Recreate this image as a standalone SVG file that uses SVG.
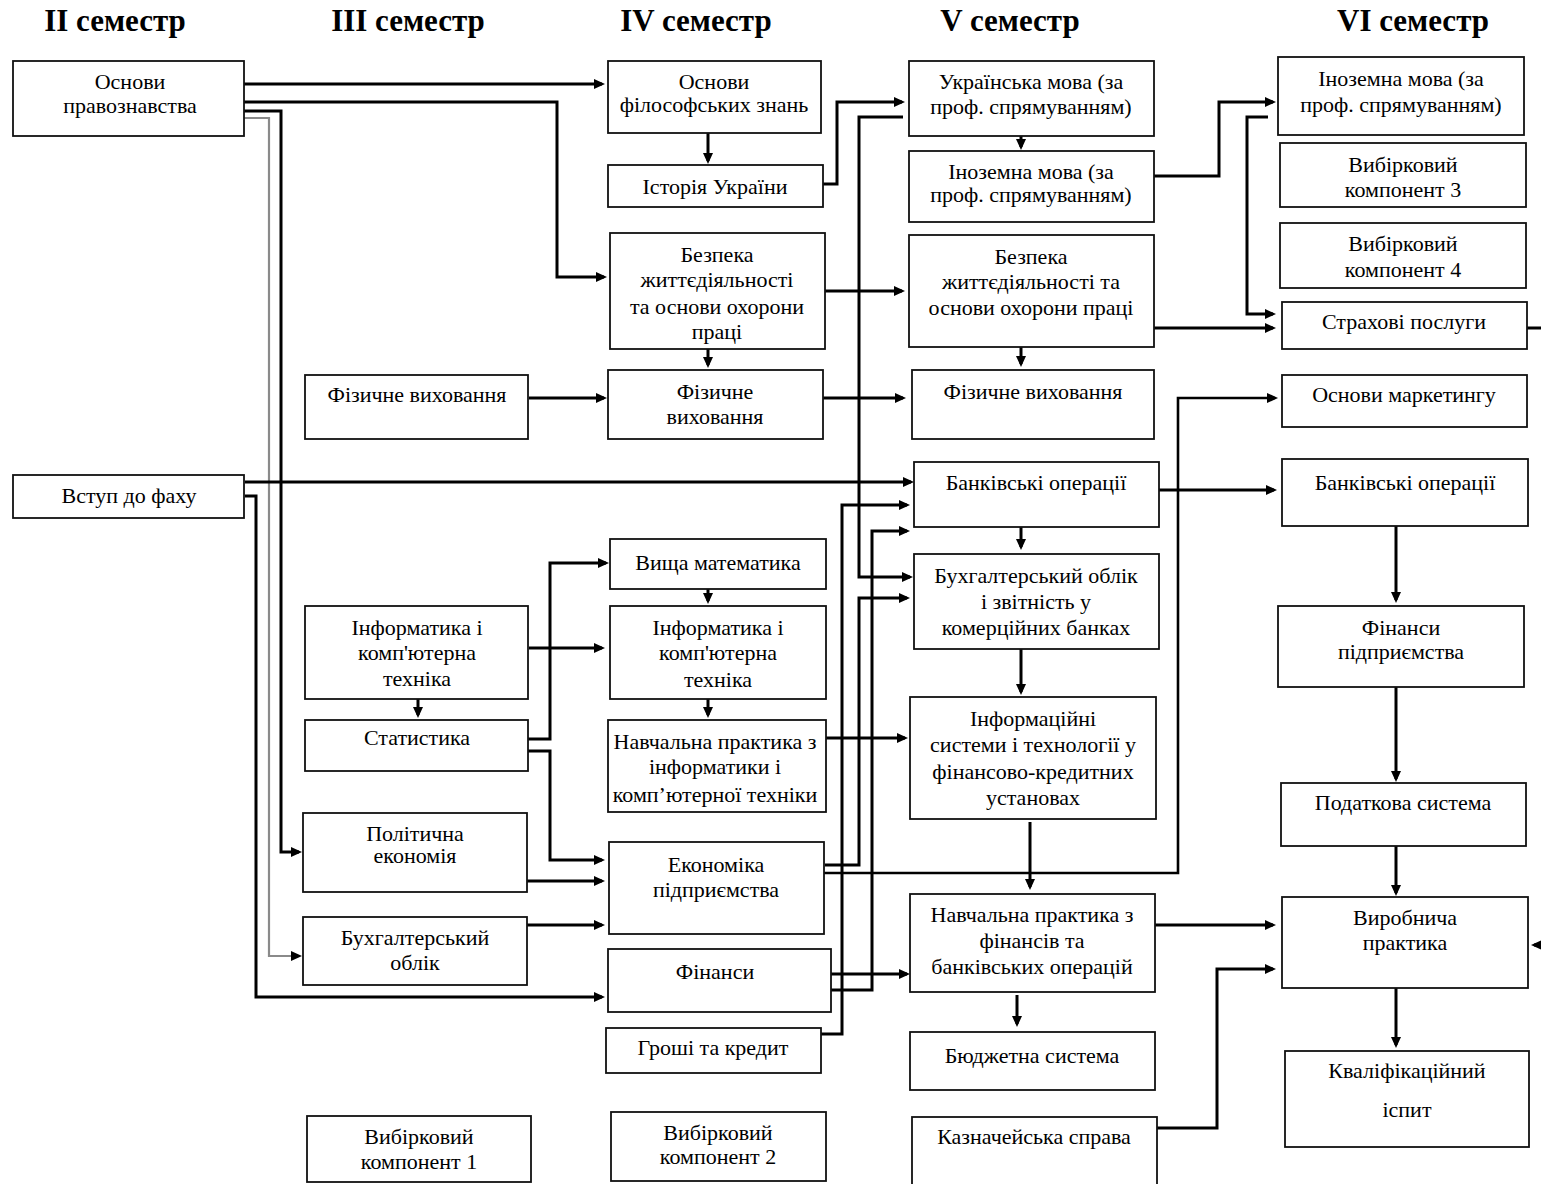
<svg xmlns="http://www.w3.org/2000/svg" width="1541" height="1184" viewBox="0 0 1541 1184">
<defs>
<style>
.b{fill:#fff;stroke:#111;stroke-width:1.8}
.t{font-family:"Liberation Serif","Times New Roman",serif;font-size:22px;fill:#000;text-anchor:middle}
.h{font-family:"Liberation Serif","Times New Roman",serif;font-size:31px;font-weight:bold;fill:#000;text-anchor:middle}
.c{fill:none;stroke:#000;stroke-width:3;marker-end:url(#ah)}
.n{fill:none;stroke:#000;stroke-width:3}
.g{fill:none;stroke:#8a8a8a;stroke-width:2.2;marker-end:url(#ah)}
</style>
<marker id="ah" markerUnits="userSpaceOnUse" markerWidth="12" markerHeight="11" refX="8" refY="5" orient="auto">
<path d="M0,0 L11,5 L0,10 Z" fill="#000"/>
</marker>
</defs>
<rect width="1541" height="1184" fill="#fff"/>

<g id="headers">
<text class="h" x="115" y="31">II семестр</text>
<text class="h" x="408" y="31">III семестр</text>
<text class="h" x="696" y="31">IV семестр</text>
<text class="h" x="1010" y="31">V семестр</text>
<text class="h" x="1413" y="31">VI семестр</text>
</g>

<g id="connectors">
<path class="c" d="M244,84 H602"/>
<path class="c" d="M244,102 H557 V277 H604"/>
<path class="c" d="M244,111 H281 V852 H299"/>
<path class="g" d="M244,118 H269 V956 H299"/>
<path class="c" d="M708,133 V161"/>
<path class="c" d="M823,184 H837 V102 H902"/>
<path class="c" d="M903,117 H859 V577 H910"/>
<path class="c" d="M1021,136 V147"/>
<path class="c" d="M1154,176 H1219 V102 H1273"/>
<path class="c" d="M1268,117 H1247 V314 H1273"/>
<path class="c" d="M1154,328 H1273"/>
<path class="c" d="M1527,328 H1550 V945 H1534"/>
<path class="c" d="M825,291 H902"/>
<path class="c" d="M708,349 V365"/>
<path class="c" d="M529,398 H604"/>
<path class="c" d="M823,398 H903"/>
<path class="c" d="M1021,347 V364"/>
<path class="c" d="M245,482 H911"/>
<path class="c" d="M245,496 H256 V997 H602"/>
<path class="c" d="M1159,490 H1274"/>
<path class="c" d="M1021,527 V547"/>
<path class="c" d="M1021,649 V692"/>
<path class="c" d="M1030,822 V887"/>
<path class="c" d="M1155,925 H1273"/>
<path class="c" d="M1017,995 V1024"/>
<path class="c" d="M1157,1128 H1217 V969 H1273"/>
<path class="c" d="M1396,526 V600"/>
<path class="c" d="M1396,687 V779"/>
<path class="c" d="M1396,846 V893"/>
<path class="c" d="M1396,988 V1045"/>
<path class="c" d="M708,589 V601"/>
<path class="c" d="M708,699 V715"/>
<path class="c" d="M418,699 V715"/>
<path class="c" d="M529,648 H602"/>
<path class="c" d="M528,739 H550 V563 H606"/>
<path class="c" d="M528,751 H550 V860 H602"/>
<path class="c" d="M527,881 H602"/>
<path class="c" d="M527,925 H602"/>
<path class="c" d="M825,738 H905"/>
<path class="c" d="M825,865 H859 V598 H907"/>
<path class="c" d="M823,873 H1178 V398 H1275" style="stroke-width:2.6"/>
<path class="c" d="M831,974 H907"/>
<path class="c" d="M831,990 H872 V531 H907"/>
<path class="c" d="M821,1034 H842 V505 H907"/>
</g>

<g id="n1"><rect class="b" x="13" y="61" width="231" height="75"/><text class="t" x="130" y="89">Основи</text><text class="t" x="130" y="113">правознавства</text></g>
<g id="n2"><rect class="b" x="13" y="475" width="231" height="43"/><text class="t" x="129" y="503">Вступ до фаху</text></g>

<g id="n3"><rect class="b" x="305" y="375" width="223" height="64"/><text class="t" x="417" y="402">Фізичне виховання</text></g>
<g id="n4"><rect class="b" x="305" y="606" width="223" height="93"/><text class="t" x="417" y="635">Інформатика і</text><text class="t" x="417" y="660">комп'ютерна</text><text class="t" x="417" y="686">техніка</text></g>
<g id="n5"><rect class="b" x="305" y="720" width="223" height="51"/><text class="t" x="417" y="745">Статистика</text></g>
<g id="n6"><rect class="b" x="303" y="813" width="224" height="79"/><text class="t" x="415" y="841">Політична</text><text class="t" x="415" y="863">економія</text></g>
<g id="n7"><rect class="b" x="303" y="917" width="224" height="68"/><text class="t" x="415" y="945">Бухгалтерський</text><text class="t" x="415" y="970">облік</text></g>
<g id="n8"><rect class="b" x="307" y="1116" width="224" height="66"/><text class="t" x="419" y="1144">Вибірковий</text><text class="t" x="419" y="1169">компонент 1</text></g>

<g id="n9"><rect class="b" x="608" y="61" width="213" height="72"/><text class="t" x="714" y="89">Основи</text><text class="t" x="714" y="112">філософських знань</text></g>
<g id="n10"><rect class="b" x="608" y="165" width="215" height="42"/><text class="t" x="715" y="194">Історія України</text></g>
<g id="n11"><rect class="b" x="610" y="233" width="215" height="116"/><text class="t" x="717" y="262">Безпека</text><text class="t" x="717" y="287">життєдіяльності</text><text class="t" x="717" y="314">та основи охорони</text><text class="t" x="717" y="339">праці</text></g>
<g id="n12"><rect class="b" x="608" y="370" width="215" height="69"/><text class="t" x="715" y="399">Фізичне</text><text class="t" x="715" y="424">виховання</text></g>
<g id="n13"><rect class="b" x="610" y="539" width="216" height="50"/><text class="t" x="718" y="570">Вища математика</text></g>
<g id="n14"><rect class="b" x="610" y="606" width="216" height="93"/><text class="t" x="718" y="635">Інформатика і</text><text class="t" x="718" y="660">комп'ютерна</text><text class="t" x="718" y="687">техніка</text></g>
<g id="n15"><rect class="b" x="608" y="720" width="218" height="92"/><text class="t" x="715" y="749">Навчальна практика з</text><text class="t" x="715" y="774">інформатики і</text><text class="t" x="715" y="802">комп’ютерної техніки</text></g>
<g id="n16"><rect class="b" x="609" y="842" width="215" height="92"/><text class="t" x="716" y="872">Економіка</text><text class="t" x="716" y="897">підприємства</text></g>
<g id="n17"><rect class="b" x="608" y="949" width="223" height="63"/><text class="t" x="715" y="979">Фінанси</text></g>
<g id="n18"><rect class="b" x="606" y="1028" width="215" height="45"/><text class="t" x="713" y="1055">Гроші та кредит</text></g>
<g id="n19"><rect class="b" x="611" y="1112" width="215" height="69"/><text class="t" x="718" y="1140">Вибірковий</text><text class="t" x="718" y="1164">компонент 2</text></g>

<g id="n20"><rect class="b" x="909" y="61" width="245" height="75"/><text class="t" x="1031" y="89">Українська мова (за</text><text class="t" x="1031" y="114">проф. спрямуванням)</text></g>
<g id="n21"><rect class="b" x="909" y="151" width="245" height="71"/><text class="t" x="1031" y="179">Іноземна мова (за</text><text class="t" x="1031" y="202">проф. спрямуванням)</text></g>
<g id="n22"><rect class="b" x="909" y="235" width="245" height="112"/><text class="t" x="1031" y="264">Безпека</text><text class="t" x="1031" y="289">життєдіяльності та</text><text class="t" x="1031" y="315">основи охорони праці</text></g>
<g id="n23"><rect class="b" x="912" y="370" width="242" height="69"/><text class="t" x="1033" y="399">Фізичне виховання</text></g>
<g id="n24"><rect class="b" x="914" y="462" width="245" height="65"/><text class="t" x="1036" y="490">Банківські операції</text></g>
<g id="n25"><rect class="b" x="914" y="554" width="245" height="95"/><text class="t" x="1036" y="583">Бухгалтерський облік</text><text class="t" x="1036" y="609">і звітність у</text><text class="t" x="1036" y="635">комерційних банках</text></g>
<g id="n26"><rect class="b" x="910" y="697" width="246" height="122"/><text class="t" x="1033" y="726">Інформаційні</text><text class="t" x="1033" y="752">системи і технології у</text><text class="t" x="1033" y="779">фінансово-кредитних</text><text class="t" x="1033" y="805">установах</text></g>
<g id="n27"><rect class="b" x="910" y="894" width="245" height="98"/><text class="t" x="1032" y="922">Навчальна практика з</text><text class="t" x="1032" y="948">фінансів та</text><text class="t" x="1032" y="974">банківських операцій</text></g>
<g id="n28"><rect class="b" x="910" y="1032" width="245" height="58"/><text class="t" x="1032" y="1063">Бюджетна система</text></g>
<g id="n29"><rect class="b" x="912" y="1117" width="245" height="72"/><text class="t" x="1034" y="1144">Казначейська справа</text></g>

<g id="n30"><rect class="b" x="1278" y="57" width="246" height="78"/><text class="t" x="1401" y="86">Іноземна мова (за</text><text class="t" x="1401" y="112">проф. спрямуванням)</text></g>
<g id="n31"><rect class="b" x="1280" y="143" width="246" height="64"/><text class="t" x="1403" y="172">Вибірковий</text><text class="t" x="1403" y="197">компонент 3</text></g>
<g id="n32"><rect class="b" x="1280" y="223" width="246" height="65"/><text class="t" x="1403" y="251">Вибірковий</text><text class="t" x="1403" y="277">компонент 4</text></g>
<g id="n33"><rect class="b" x="1282" y="302" width="245" height="47"/><text class="t" x="1404" y="329">Страхові послуги</text></g>
<g id="n34"><rect class="b" x="1282" y="375" width="245" height="52"/><text class="t" x="1404" y="402">Основи маркетингу</text></g>
<g id="n35"><rect class="b" x="1282" y="459" width="246" height="67"/><text class="t" x="1405" y="490">Банківські операції</text></g>
<g id="n36"><rect class="b" x="1278" y="606" width="246" height="81"/><text class="t" x="1401" y="635">Фінанси</text><text class="t" x="1401" y="659">підприємства</text></g>
<g id="n37"><rect class="b" x="1281" y="783" width="245" height="63"/><text class="t" x="1403" y="810">Податкова система</text></g>
<g id="n38"><rect class="b" x="1282" y="897" width="246" height="91"/><text class="t" x="1405" y="925">Виробнича</text><text class="t" x="1405" y="950">практика</text></g>
<g id="n39"><rect class="b" x="1285" y="1051" width="244" height="96"/><text class="t" x="1407" y="1078">Кваліфікаційний</text><text class="t" x="1407" y="1117">іспит</text></g>
</svg>
